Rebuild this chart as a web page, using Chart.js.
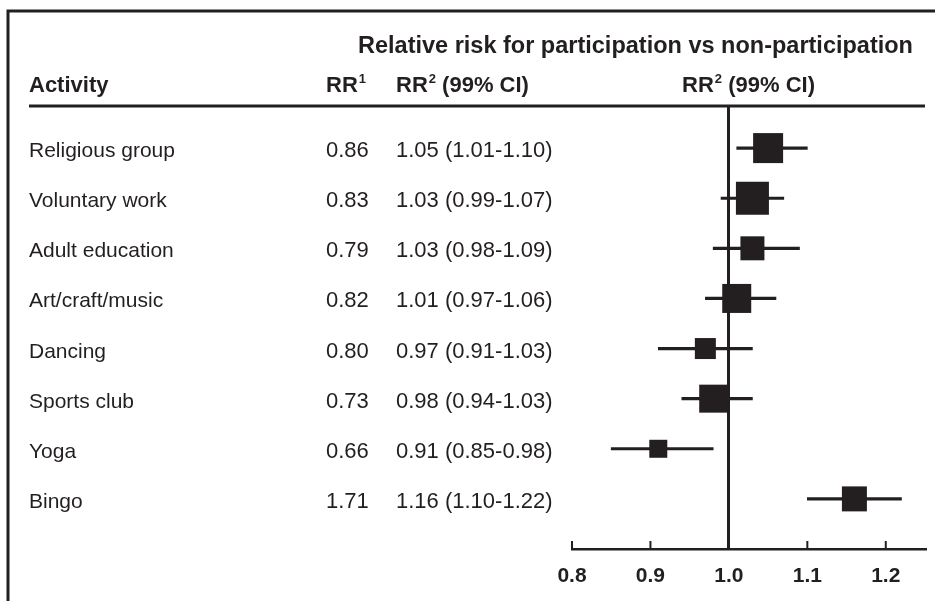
<!DOCTYPE html>
<html>
<head>
<meta charset="utf-8">
<script src="https://cdn.jsdelivr.net/npm/chart.js@4/dist/chart.umd.min.js"></script>
<style>
  html, body { margin: 0; padding: 0; background: #fff; }
  #wrap { width: 935px; height: 601px; }
</style>
</head>
<body>
<div id="wrap"><canvas id="forest" width="935" height="601"></canvas></div>
<script>
'use strict';

// data
const activities = ['Religious group', 'Voluntary work', 'Adult education', 'Art/craft/music',
    'Dancing', 'Sports club', 'Yoga', 'Bingo'];
const rr1 = ['0.86', '0.83', '0.79', '0.82', '0.80', '0.73', '0.66', '1.71'];
const rr2 = [1.05, 1.03, 1.03, 1.01, 0.97, 0.98, 0.91, 1.16];
const ciLow = [1.01, 0.99, 0.98, 0.97, 0.91, 0.94, 0.85, 1.10];
const ciHigh = [1.10, 1.07, 1.09, 1.06, 1.03, 1.03, 0.98, 1.22];
const tickValues = [0.8, 0.9, 1.0, 1.1, 1.2];

// box side in px (study weight)
const markerSizes = [30, 33, 24, 29, 21, 28, 18, 25];

const ink = '#231f20';
const fontFam = '"Liberation Sans", Arial, Helvetica, sans-serif';

// draws "RR" + superscript + rest, returns width
function drawSup(ctx, main, sup, rest, x, y, measureOnly) {
    ctx.font = 'bold 22px ' + fontFam;
    const w1 = ctx.measureText(main).width;
    ctx.font = 'bold 13px ' + fontFam;
    const w2 = ctx.measureText(sup).width;
    ctx.font = 'bold 22px ' + fontFam;
    const w3 = ctx.measureText(rest).width;
    if (!measureOnly) {
        ctx.fillText(main, x, y);
        ctx.font = 'bold 13px ' + fontFam;
        ctx.fillText(sup, x + w1 + 1, y - 9);
        ctx.font = 'bold 22px ' + fontFam;
        ctx.fillText(rest, x + w1 + w2 + 1, y);
    }
    return w1 + w2 + 1 + w3;
}

const tablePlugin = {
    id: 'table',
    afterDraw(chart) {
        const ctx = chart.ctx;
        const area = chart.chartArea;
        const yScale = chart.scales.y;
        const xScale = chart.scales.x;
        ctx.save();
        ctx.strokeStyle = ink;
        ctx.fillStyle = ink;

        // frame top + left
        ctx.lineWidth = 3;
        ctx.beginPath();
        ctx.moveTo(8, 601);
        ctx.lineTo(8, 11);
        ctx.lineTo(935, 11);
        ctx.stroke();

        // line under headers
        ctx.beginPath();
        ctx.moveTo(29, area.top);
        ctx.lineTo(area.right, area.top);
        ctx.stroke();

        // inward tick marks
        ctx.lineWidth = 2;
        tickValues.forEach((v) => {
            const px = xScale.getPixelForValue(v);
            ctx.beginPath();
            ctx.moveTo(px, area.bottom);
            ctx.lineTo(px, area.bottom - 8);
            ctx.stroke();
        });

        // headers
        ctx.textAlign = 'left';
        ctx.textBaseline = 'alphabetic';
        ctx.font = 'bold 23.5px ' + fontFam;
        ctx.fillText('Relative risk for participation vs non-participation', 358, 53);
        ctx.font = 'bold 22px ' + fontFam;
        ctx.fillText('Activity', 29, 92);
        drawSup(ctx, 'RR', '1', '', 326, 92);
        drawSup(ctx, 'RR', '2', ' (99% CI)', 396, 92);
        const hw = drawSup(ctx, 'RR', '2', ' (99% CI)', 0, 0, true);
        drawSup(ctx, 'RR', '2', ' (99% CI)', (area.left + area.right) / 2 - hw / 2, 92);

        // rows
        activities.forEach((name, i) => {
            const py = yScale.getPixelForValue(i) + 9;
            ctx.font = '21px ' + fontFam;
            ctx.fillText(name, 29, py);
            ctx.font = '22px ' + fontFam;
            ctx.fillText(rr1[i], 326, py);
            ctx.fillText(rr2[i].toFixed(2) + ' (' + ciLow[i].toFixed(2) + '-' + ciHigh[i].toFixed(2) + ')', 396, py);
        });
        ctx.restore();
    },
};

new Chart(document.getElementById('forest'), {
    type: 'scatter',
    plugins: [tablePlugin],
    data: {
        datasets: [
            {
                type: 'scatter',
                order: 0,
                data: rr2.map((v, i) => ({ x: v, y: i })),
                pointStyle: 'rect',
                pointRadius: markerSizes.map((s) => s / (2 * Math.SQRT1_2)),
                pointBackgroundColor: ink,
                pointBorderWidth: 0,
            },
            {
                type: 'bar',
                order: 1,
                indexAxis: 'y',
                data: activities.map((a, i) => ({ x: [ciLow[i], ciHigh[i]], y: i })),
                backgroundColor: ink,
                borderWidth: 0,
                borderSkipped: false,
                barThickness: 2.5,
                grouped: false,
            },
        ],
    },
    options: {
        responsive: false,
        animation: false,
        events: [],
        layout: { autoPadding: false, padding: { left: 572, right: 10, top: 106, bottom: 0 } },
        plugins: { legend: { display: false }, tooltip: { enabled: false } },
        scales: {
            x: {
                type: 'linear',
                position: 'bottom',
                min: 0.8,
                max: 1.25,
                afterBuildTicks: (scale) => {
                    scale.ticks = tickValues.map((v) => ({ value: v }));
                },
                afterFit: (scale) => {
                    scale.height = 52;
                    scale.paddingLeft = 0;
                    scale.paddingRight = 0;
                },
                grid: {
                    drawTicks: false,
                    lineWidth: 3,
                    color: (c) => (c.tick && Math.abs(c.tick.value - 1) < 1e-9 ? ink : 'rgba(0,0,0,0)'),
                },
                border: { display: true, color: ink, width: 2.5 },
                ticks: {
                    padding: 15,
                    color: ink,
                    font: { family: fontFam, size: 21, weight: 'bold' },
                    callback: (v) => Number(v).toFixed(1),
                },
            },
            y: {
                type: 'linear',
                display: false,
                reverse: true,
                offset: false,
                min: -0.84,
                max: 8,
            },
        },
    },
});
</script>
</body>
</html>
